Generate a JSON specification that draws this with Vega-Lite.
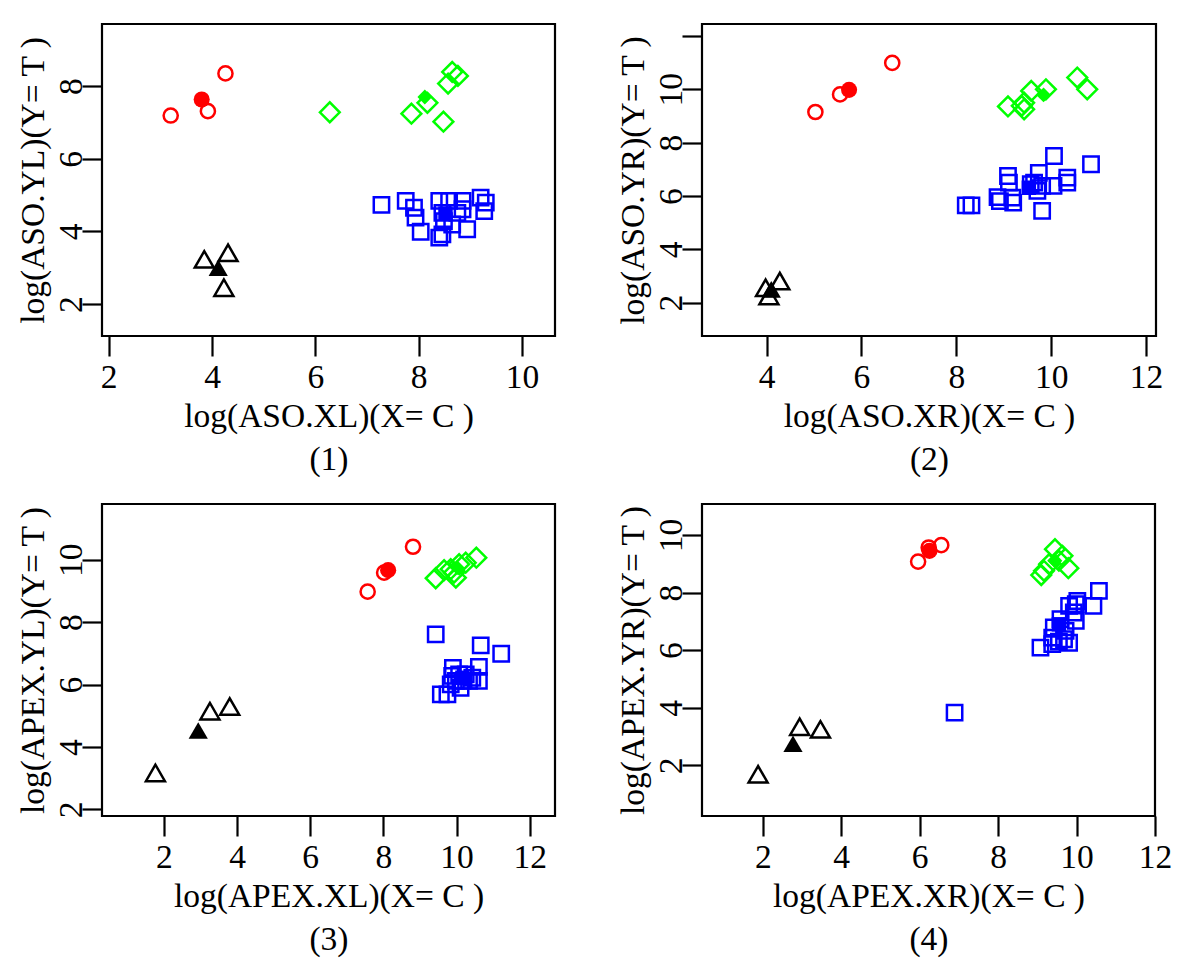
{
  "$schema": "https://vega.github.io/schema/vega-lite/v6.json",
  "autosize": {"type": "pad"},
  "padding": {"left": 14, "top": 22, "right": 5, "bottom": 5},
  "background": "white",
  "config": {
    "font": "Liberation Serif",
    "view": {"stroke": "#000000", "strokeWidth": 2.2},
    "axis": {
      "domain": false, "grid": false, "ticks": true,
      "tickColor": "#000000", "tickWidth": 2.2, "tickSize": 20,
      "labelFont": "Liberation Serif", "labelFontSize": 33.5, "labelColor": "#000000",
      "titleFont": "Liberation Serif", "titleFontSize": 33.5, "titleFontWeight": "normal", "titleColor": "#000000",
      "labelFlush": false, "labelOverlap": false
    },
    "axisX": {"labelBaseline": "alphabetic", "labelPadding": 31, "titleBaseline": "top", "titleLineHeight": 43, "titlePadding": 7},
    "axisY": {"labelAngle": 270, "labelAlign": "center", "labelBaseline": "alphabetic", "labelPadding": 0.5, "titleAngle": 270, "titleBaseline": "alphabetic", "titlePadding": 11.5},
    "point": {"strokeWidth": 2.5, "opacity": 1}
  },
  "datasets": {
    "pts": [
      {"p": 1, "g": "c", "f": 0, "x": 3.20, "y": 7.19},
      {"p": 1, "g": "c", "f": 1, "x": 3.80, "y": 7.63},
      {"p": 1, "g": "c", "f": 0, "x": 3.92, "y": 7.31},
      {"p": 1, "g": "c", "f": 0, "x": 4.26, "y": 8.35},
      {"p": 1, "g": "d", "f": 0, "x": 6.28, "y": 7.28},
      {"p": 1, "g": "d", "f": 0, "x": 7.86, "y": 7.24},
      {"p": 1, "g": "d", "f": 0, "x": 8.17, "y": 7.54},
      {"p": 1, "g": "d", "f": 1, "x": 8.12, "y": 7.70},
      {"p": 1, "g": "d", "f": 0, "x": 8.48, "y": 7.02},
      {"p": 1, "g": "d", "f": 0, "x": 8.57, "y": 8.07},
      {"p": 1, "g": "d", "f": 0, "x": 8.65, "y": 8.39},
      {"p": 1, "g": "d", "f": 0, "x": 8.76, "y": 8.28},
      {"p": 1, "g": "s", "f": 0, "x": 7.28, "y": 4.73},
      {"p": 1, "g": "s", "f": 0, "x": 7.75, "y": 4.84},
      {"p": 1, "g": "s", "f": 0, "x": 7.91, "y": 4.65},
      {"p": 1, "g": "s", "f": 0, "x": 7.94, "y": 4.38},
      {"p": 1, "g": "s", "f": 0, "x": 8.04, "y": 3.99},
      {"p": 1, "g": "s", "f": 0, "x": 8.40, "y": 4.84},
      {"p": 1, "g": "s", "f": 0, "x": 8.59, "y": 4.84},
      {"p": 1, "g": "s", "f": 0, "x": 8.85, "y": 4.84},
      {"p": 1, "g": "s", "f": 0, "x": 9.20, "y": 4.93},
      {"p": 1, "g": "s", "f": 0, "x": 9.30, "y": 4.79},
      {"p": 1, "g": "s", "f": 0, "x": 9.27, "y": 4.56},
      {"p": 1, "g": "s", "f": 0, "x": 8.94, "y": 4.06},
      {"p": 1, "g": "s", "f": 0, "x": 8.40, "y": 3.83},
      {"p": 1, "g": "s", "f": 0, "x": 8.46, "y": 3.92},
      {"p": 1, "g": "s", "f": 0, "x": 8.49, "y": 4.28},
      {"p": 1, "g": "s", "f": 0, "x": 8.65, "y": 4.19},
      {"p": 1, "g": "s", "f": 0, "x": 8.85, "y": 4.61},
      {"p": 1, "g": "s", "f": 0, "x": 8.75, "y": 4.51},
      {"p": 1, "g": "s", "f": 0, "x": 8.46, "y": 4.51},
      {"p": 1, "g": "s", "f": 1, "x": 8.52, "y": 4.49},
      {"p": 1, "g": "t", "f": 0, "x": 3.85, "y": 3.23},
      {"p": 1, "g": "t", "f": 0, "x": 4.31, "y": 3.41},
      {"p": 1, "g": "t", "f": 0, "x": 4.23, "y": 2.45},
      {"p": 1, "g": "t", "f": 1, "x": 4.12, "y": 3.00},

      {"p": 2, "g": "c", "f": 0, "x": 5.03, "y": 9.15},
      {"p": 2, "g": "c", "f": 0, "x": 5.55, "y": 9.81},
      {"p": 2, "g": "c", "f": 1, "x": 5.74, "y": 9.98},
      {"p": 2, "g": "c", "f": 0, "x": 6.65, "y": 10.99},
      {"p": 2, "g": "d", "f": 0, "x": 9.09, "y": 9.36},
      {"p": 2, "g": "d", "f": 0, "x": 9.38, "y": 9.38},
      {"p": 2, "g": "d", "f": 0, "x": 9.43, "y": 9.25},
      {"p": 2, "g": "d", "f": 0, "x": 9.43, "y": 9.50},
      {"p": 2, "g": "d", "f": 0, "x": 9.58, "y": 9.94},
      {"p": 2, "g": "d", "f": 0, "x": 9.89, "y": 10.00},
      {"p": 2, "g": "d", "f": 0, "x": 10.55, "y": 10.44},
      {"p": 2, "g": "d", "f": 0, "x": 10.76, "y": 10.00},
      {"p": 2, "g": "d", "f": 1, "x": 9.84, "y": 9.79},
      {"p": 2, "g": "s", "f": 0, "x": 8.20, "y": 5.65},
      {"p": 2, "g": "s", "f": 0, "x": 8.32, "y": 5.65},
      {"p": 2, "g": "s", "f": 0, "x": 8.87, "y": 5.96},
      {"p": 2, "g": "s", "f": 0, "x": 8.92, "y": 5.81},
      {"p": 2, "g": "s", "f": 0, "x": 9.09, "y": 6.75},
      {"p": 2, "g": "s", "f": 0, "x": 9.11, "y": 6.50},
      {"p": 2, "g": "s", "f": 0, "x": 9.18, "y": 5.94},
      {"p": 2, "g": "s", "f": 0, "x": 9.20, "y": 5.75},
      {"p": 2, "g": "s", "f": 0, "x": 9.57, "y": 6.44},
      {"p": 2, "g": "s", "f": 0, "x": 9.64, "y": 6.50},
      {"p": 2, "g": "s", "f": 0, "x": 9.74, "y": 6.87},
      {"p": 2, "g": "s", "f": 0, "x": 9.71, "y": 6.19},
      {"p": 2, "g": "s", "f": 0, "x": 9.81, "y": 5.44},
      {"p": 2, "g": "s", "f": 0, "x": 9.81, "y": 6.38},
      {"p": 2, "g": "s", "f": 0, "x": 10.06, "y": 7.50},
      {"p": 2, "g": "s", "f": 0, "x": 10.05, "y": 6.38},
      {"p": 2, "g": "s", "f": 0, "x": 10.34, "y": 6.69},
      {"p": 2, "g": "s", "f": 0, "x": 10.34, "y": 6.50},
      {"p": 2, "g": "s", "f": 0, "x": 10.84, "y": 7.19},
      {"p": 2, "g": "s", "f": 1, "x": 9.53, "y": 6.31},
      {"p": 2, "g": "t", "f": 0, "x": 3.98, "y": 2.56},
      {"p": 2, "g": "t", "f": 0, "x": 4.28, "y": 2.81},
      {"p": 2, "g": "t", "f": 0, "x": 4.05, "y": 2.25},
      {"p": 2, "g": "t", "f": 1, "x": 4.10, "y": 2.50},

      {"p": 3, "g": "c", "f": 0, "x": 7.57, "y": 8.98},
      {"p": 3, "g": "c", "f": 0, "x": 8.02, "y": 9.59},
      {"p": 3, "g": "c", "f": 0, "x": 8.81, "y": 10.42},
      {"p": 3, "g": "c", "f": 1, "x": 8.13, "y": 9.67},
      {"p": 3, "g": "d", "f": 0, "x": 9.43, "y": 9.41},
      {"p": 3, "g": "d", "f": 0, "x": 9.66, "y": 9.67},
      {"p": 3, "g": "d", "f": 0, "x": 9.84, "y": 9.70},
      {"p": 3, "g": "d", "f": 0, "x": 9.98, "y": 9.43},
      {"p": 3, "g": "d", "f": 0, "x": 10.07, "y": 9.86},
      {"p": 3, "g": "d", "f": 0, "x": 10.25, "y": 9.91},
      {"p": 3, "g": "d", "f": 0, "x": 10.54, "y": 10.07},
      {"p": 3, "g": "d", "f": 0, "x": 9.93, "y": 9.59},
      {"p": 3, "g": "d", "f": 1, "x": 10.02, "y": 9.75},
      {"p": 3, "g": "s", "f": 0, "x": 9.43, "y": 7.61},
      {"p": 3, "g": "s", "f": 0, "x": 10.66, "y": 7.26},
      {"p": 3, "g": "s", "f": 0, "x": 11.22, "y": 6.99},
      {"p": 3, "g": "s", "f": 0, "x": 10.61, "y": 6.57},
      {"p": 3, "g": "s", "f": 0, "x": 9.90, "y": 6.54},
      {"p": 3, "g": "s", "f": 0, "x": 9.57, "y": 5.69},
      {"p": 3, "g": "s", "f": 0, "x": 9.75, "y": 5.69},
      {"p": 3, "g": "s", "f": 0, "x": 9.88, "y": 6.28},
      {"p": 3, "g": "s", "f": 0, "x": 10.07, "y": 6.33},
      {"p": 3, "g": "s", "f": 0, "x": 10.16, "y": 6.12},
      {"p": 3, "g": "s", "f": 0, "x": 10.11, "y": 5.90},
      {"p": 3, "g": "s", "f": 0, "x": 10.34, "y": 6.12},
      {"p": 3, "g": "s", "f": 0, "x": 10.61, "y": 6.12},
      {"p": 3, "g": "s", "f": 0, "x": 9.84, "y": 6.01},
      {"p": 3, "g": "s", "f": 0, "x": 10.25, "y": 6.33},
      {"p": 3, "g": "s", "f": 0, "x": 10.43, "y": 6.22},
      {"p": 3, "g": "s", "f": 0, "x": 9.98, "y": 6.12},
      {"p": 3, "g": "s", "f": 1, "x": 10.16, "y": 6.22},
      {"p": 3, "g": "t", "f": 0, "x": 1.77, "y": 3.17},
      {"p": 3, "g": "t", "f": 0, "x": 3.26, "y": 5.15},
      {"p": 3, "g": "t", "f": 0, "x": 3.80, "y": 5.30},
      {"p": 3, "g": "t", "f": 1, "x": 2.94, "y": 4.53},

      {"p": 4, "g": "c", "f": 0, "x": 5.96, "y": 9.08},
      {"p": 4, "g": "c", "f": 0, "x": 6.23, "y": 9.57},
      {"p": 4, "g": "c", "f": 0, "x": 6.55, "y": 9.65},
      {"p": 4, "g": "c", "f": 1, "x": 6.25, "y": 9.45},
      {"p": 4, "g": "d", "f": 0, "x": 9.10, "y": 8.61},
      {"p": 4, "g": "d", "f": 0, "x": 9.17, "y": 8.76},
      {"p": 4, "g": "d", "f": 0, "x": 9.30, "y": 8.99},
      {"p": 4, "g": "d", "f": 0, "x": 9.45, "y": 9.51},
      {"p": 4, "g": "d", "f": 0, "x": 9.64, "y": 9.28},
      {"p": 4, "g": "d", "f": 0, "x": 9.79, "y": 8.85},
      {"p": 4, "g": "d", "f": 0, "x": 9.55, "y": 9.11},
      {"p": 4, "g": "d", "f": 1, "x": 9.45, "y": 9.11},
      {"p": 4, "g": "s", "f": 0, "x": 6.89, "y": 3.83},
      {"p": 4, "g": "s", "f": 0, "x": 9.08, "y": 6.09},
      {"p": 4, "g": "s", "f": 0, "x": 9.38, "y": 6.21},
      {"p": 4, "g": "s", "f": 0, "x": 9.38, "y": 6.44},
      {"p": 4, "g": "s", "f": 0, "x": 9.42, "y": 6.79},
      {"p": 4, "g": "s", "f": 0, "x": 9.59, "y": 7.08},
      {"p": 4, "g": "s", "f": 0, "x": 9.68, "y": 6.38},
      {"p": 4, "g": "s", "f": 0, "x": 9.81, "y": 6.26},
      {"p": 4, "g": "s", "f": 0, "x": 9.81, "y": 7.54},
      {"p": 4, "g": "s", "f": 0, "x": 9.98, "y": 7.60},
      {"p": 4, "g": "s", "f": 0, "x": 10.02, "y": 7.71},
      {"p": 4, "g": "s", "f": 0, "x": 9.98, "y": 7.02},
      {"p": 4, "g": "s", "f": 0, "x": 9.93, "y": 7.31},
      {"p": 4, "g": "s", "f": 0, "x": 10.43, "y": 7.54},
      {"p": 4, "g": "s", "f": 0, "x": 10.57, "y": 8.06},
      {"p": 4, "g": "s", "f": 0, "x": 9.72, "y": 6.67},
      {"p": 4, "g": "s", "f": 0, "x": 9.55, "y": 6.30},
      {"p": 4, "g": "s", "f": 1, "x": 9.55, "y": 6.90},
      {"p": 4, "g": "t", "f": 0, "x": 1.88, "y": 1.69},
      {"p": 4, "g": "t", "f": 0, "x": 2.94, "y": 3.34},
      {"p": 4, "g": "t", "f": 0, "x": 3.47, "y": 3.25},
      {"p": 4, "g": "t", "f": 1, "x": 2.77, "y": 2.75}
    ]
  },
  "columns": 2,
  "bounds": "flush",
  "spacing": {"row": 168, "column": 147},
  "resolve": {"scale": {"x": "independent", "y": "independent"}},
  "concat": [
    {
      "width": 453, "height": 312,
      "data": {"name": "pts"},
      "transform": [{"filter": "datum.p == 1"}],
      "encoding": {
        "x": {"field": "x", "type": "quantitative", "scale": {"domain": [1.87, 10.64], "nice": false, "zero": false},
              "axis": {"values": [2, 4, 6, 8, 10], "title": ["log(ASO.XL)(X= C )", "(1)"]}},
        "y": {"field": "y", "type": "quantitative", "scale": {"domain": [1.12, 9.71], "nice": false, "zero": false},
              "axis": {"values": [2, 4, 6, 8], "title": "log(ASO.YL)(Y= T )"}},
        "shape": {"field": "g", "type": "nominal", "scale": {"domain": ["c", "d", "s", "t"], "range": ["circle", "diamond", "square", "triangle-up"]}, "legend": null},
        "color": {"field": "g", "type": "nominal", "scale": {"domain": ["c", "d", "s", "t"], "range": ["#FF0000", "#00FF00", "#0000FF", "#000000"]}, "legend": null}
      },
      "layer": [
        {"transform": [{"filter": "datum.f == 0"}], "mark": {"type": "point", "filled": false},
         "encoding": {"size": {"field": "g", "type": "nominal", "scale": {"type": "ordinal", "domain": ["c", "d", "s", "t"], "range": [200, 390, 235, 360]}, "legend": null}}},
        {"transform": [{"filter": "datum.f == 1"}], "mark": {"type": "point", "filled": true},
         "encoding": {"size": {"field": "g", "type": "nominal", "scale": {"type": "ordinal", "domain": ["c", "d", "s", "t"], "range": [260, 220, 210, 370]}, "legend": null}}}
      ],
      "resolve": {"scale": {"size": "independent"}}
    },
    {
      "width": 454, "height": 312,
      "data": {"name": "pts"},
      "transform": [{"filter": "datum.p == 2"}],
      "encoding": {
        "x": {"field": "x", "type": "quantitative", "scale": {"domain": [2.64, 12.21], "nice": false, "zero": false},
              "axis": {"values": [4, 6, 8, 10, 12], "title": ["log(ASO.XR)(X= C )", "(2)"]}},
        "y": {"field": "y", "type": "quantitative", "scale": {"domain": [0.75, 12.45], "nice": false, "zero": false},
              "axis": {"values": [2, 4, 6, 8, 10, 12], "labelExpr": "datum.value == 12 ? '' : datum.label", "title": "log(ASO.YR)(Y= T )"}},
        "shape": {"field": "g", "type": "nominal", "scale": {"domain": ["c", "d", "s", "t"], "range": ["circle", "diamond", "square", "triangle-up"]}, "legend": null},
        "color": {"field": "g", "type": "nominal", "scale": {"domain": ["c", "d", "s", "t"], "range": ["#FF0000", "#00FF00", "#0000FF", "#000000"]}, "legend": null}
      },
      "layer": [
        {"transform": [{"filter": "datum.f == 0"}], "mark": {"type": "point", "filled": false},
         "encoding": {"size": {"field": "g", "type": "nominal", "scale": {"type": "ordinal", "domain": ["c", "d", "s", "t"], "range": [200, 390, 235, 360]}, "legend": null}}},
        {"transform": [{"filter": "datum.f == 1"}], "mark": {"type": "point", "filled": true},
         "encoding": {"size": {"field": "g", "type": "nominal", "scale": {"type": "ordinal", "domain": ["c", "d", "s", "t"], "range": [260, 220, 210, 370]}, "legend": null}}}
      ],
      "resolve": {"scale": {"size": "independent"}}
    },
    {
      "width": 453, "height": 312,
      "data": {"name": "pts"},
      "transform": [{"filter": "datum.p == 3"}],
      "encoding": {
        "x": {"field": "x", "type": "quantitative", "scale": {"domain": [0.31, 12.69], "nice": false, "zero": false},
              "axis": {"values": [2, 4, 6, 8, 10, 12], "title": ["log(APEX.XL)(X= C )", "(3)"]}},
        "y": {"field": "y", "type": "quantitative", "scale": {"domain": [1.79, 11.79], "nice": false, "zero": false},
              "axis": {"values": [2, 4, 6, 8, 10], "title": "log(APEX.YL)(Y= T )"}},
        "shape": {"field": "g", "type": "nominal", "scale": {"domain": ["c", "d", "s", "t"], "range": ["circle", "diamond", "square", "triangle-up"]}, "legend": null},
        "color": {"field": "g", "type": "nominal", "scale": {"domain": ["c", "d", "s", "t"], "range": ["#FF0000", "#00FF00", "#0000FF", "#000000"]}, "legend": null}
      },
      "layer": [
        {"transform": [{"filter": "datum.f == 0"}], "mark": {"type": "point", "filled": false},
         "encoding": {"size": {"field": "g", "type": "nominal", "scale": {"type": "ordinal", "domain": ["c", "d", "s", "t"], "range": [200, 390, 235, 360]}, "legend": null}}},
        {"transform": [{"filter": "datum.f == 1"}], "mark": {"type": "point", "filled": true},
         "encoding": {"size": {"field": "g", "type": "nominal", "scale": {"type": "ordinal", "domain": ["c", "d", "s", "t"], "range": [260, 220, 210, 370]}, "legend": null}}}
      ],
      "resolve": {"scale": {"size": "independent"}}
    },
    {
      "width": 453, "height": 312,
      "data": {"name": "pts"},
      "transform": [{"filter": "datum.p == 4"}],
      "encoding": {
        "x": {"field": "x", "type": "quantitative", "scale": {"domain": [0.45, 12.0], "nice": false, "zero": false},
              "axis": {"values": [2, 4, 6, 8, 10, 12], "title": ["log(APEX.XR)(X= C )", "(4)"]}},
        "y": {"field": "y", "type": "quantitative", "scale": {"domain": [0.24, 11.08], "nice": false, "zero": false},
              "axis": {"values": [2, 4, 6, 8, 10], "title": "log(APEX.YR)(Y= T )"}},
        "shape": {"field": "g", "type": "nominal", "scale": {"domain": ["c", "d", "s", "t"], "range": ["circle", "diamond", "square", "triangle-up"]}, "legend": null},
        "color": {"field": "g", "type": "nominal", "scale": {"domain": ["c", "d", "s", "t"], "range": ["#FF0000", "#00FF00", "#0000FF", "#000000"]}, "legend": null}
      },
      "layer": [
        {"transform": [{"filter": "datum.f == 0"}], "mark": {"type": "point", "filled": false},
         "encoding": {"size": {"field": "g", "type": "nominal", "scale": {"type": "ordinal", "domain": ["c", "d", "s", "t"], "range": [200, 390, 235, 360]}, "legend": null}}},
        {"transform": [{"filter": "datum.f == 1"}], "mark": {"type": "point", "filled": true},
         "encoding": {"size": {"field": "g", "type": "nominal", "scale": {"type": "ordinal", "domain": ["c", "d", "s", "t"], "range": [260, 220, 210, 370]}, "legend": null}}}
      ],
      "resolve": {"scale": {"size": "independent"}}
    }
  ]
}
